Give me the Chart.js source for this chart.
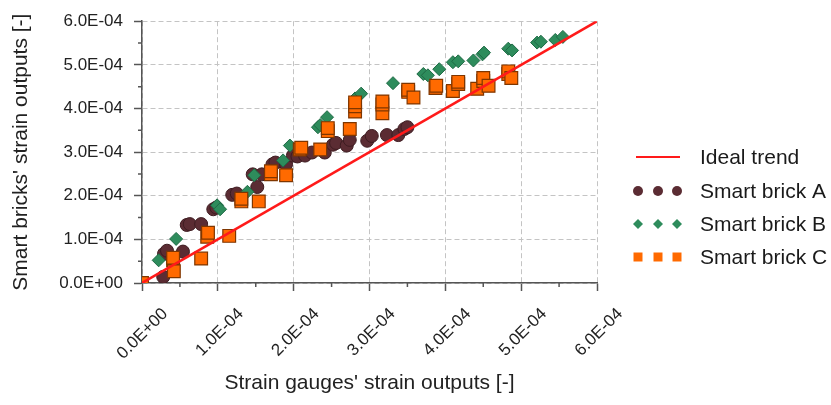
<!DOCTYPE html>
<html>
<head>
<meta charset="utf-8">
<script src="https://cdn.jsdelivr.net/npm/chart.js@4"></script>
<style>
  html, body { margin: 0; padding: 0; background: #fff; }
  canvas { display: block; }
</style>
</head>
<body>
<canvas id="myChart" width="831" height="405"></canvas>
<script>
// all strain values below are in units of 1E-04
const UNIT = 1e-4;

const tickValues = [0, 1, 2, 3, 4, 5, 6];
const xTickLabels = ['0.0E+00', '1.0E-04', '2.0E-04', '3.0E-04', '4.0E-04', '5.0E-04', '6.0E-04'];
const yTickLabels = ['0.0E+00', '1.0E-04', '2.0E-04', '3.0E-04', '4.0E-04', '5.0E-04', '6.0E-04'];

const trendX = [0, 6];
const trendY = [0, 6];

const brickAx = [0, 0.28, 0.29, 0.33, 0.54, 0.59, 0.63, 0.78, 0.94, 0.98, 1.19, 1.25, 1.52, 1.46, 1.58, 1.72, 1.76, 1.90, 1.99, 2.05, 2.15, 2.24, 2.41, 2.52, 2.56, 2.70, 2.74, 2.97, 3.03, 3.23, 3.38, 3.46, 3.50];
const brickAy = [0, 0.14, 0.67, 0.74, 0.72, 1.33, 1.35, 1.35, 1.69, 1.73, 2.02, 2.05, 2.20, 2.49, 2.49, 2.72, 2.76, 2.72, 2.92, 2.90, 2.92, 2.99, 2.99, 3.17, 3.21, 3.15, 3.28, 3.26, 3.37, 3.39, 3.39, 3.53, 3.57];

const brickBx = [0, 0.22, 0.45, 0.99, 1.03, 1.39, 1.48, 1.86, 1.95, 2.32, 2.35, 2.44, 2.81, 2.89, 3.31, 3.71, 3.77, 3.92, 4.10, 4.17, 4.37, 4.49, 4.51, 4.83, 4.88, 5.21, 5.26, 5.45, 5.55];
const brickBy = [0, 0.52, 1.01, 1.78, 1.69, 2.09, 2.47, 2.81, 3.15, 3.57, 3.62, 3.80, 4.23, 4.34, 4.58, 4.79, 4.76, 4.90, 5.06, 5.08, 5.10, 5.24, 5.28, 5.37, 5.33, 5.51, 5.53, 5.57, 5.64];

const brickCx = [0, 0.41, 0.42, 0.41, 0.78, 0.86, 0.87, 1.15, 1.31, 1.31, 1.54, 1.70, 1.70, 1.90, 2.08, 2.10, 2.35, 2.45, 2.45, 2.74, 2.81, 2.81, 2.81, 3.17, 3.17, 3.17, 3.51, 3.51, 3.58, 3.87, 3.88, 4.10, 4.17, 4.17, 4.42, 4.50, 4.50, 4.57, 4.83, 4.83, 4.87];
const brickCy = [0, 0.52, 0.27, 0.58, 0.56, 1.06, 1.15, 1.08, 1.87, 1.93, 1.87, 2.49, 2.56, 2.47, 3.06, 3.10, 3.06, 3.48, 3.55, 3.53, 3.93, 4.05, 4.14, 3.89, 4.09, 4.16, 4.38, 4.43, 4.25, 4.47, 4.52, 4.40, 4.56, 4.61, 4.45, 4.63, 4.70, 4.52, 4.79, 4.85, 4.70];

const FONT = '"Liberation Sans", Arial, sans-serif';
const AXIS_COLOR = '#555';

const toPoints = (xs, ys) => xs.map((x, i) => ({ x: x * UNIT, y: ys[i] * UNIT }));

const series = [
    { label: 'Ideal trend', type: 'line', data: toPoints(trendX, trendY),
      borderColor: '#ff1a1a', borderWidth: 2.5, pointRadius: 0, order: 0 },
    { label: 'Smart brick A', data: toPoints(brickAx, brickAy), pointStyle: 'circle',
      pointRadius: 6.5, backgroundColor: '#5b2c33', borderColor: '#3e1c21', borderWidth: 1, order: 3 },
    { label: 'Smart brick B', data: toPoints(brickBx, brickBy), pointStyle: 'rectRot',
      pointRadius: 6.5, backgroundColor: '#2e8c5c', borderColor: '#1f6a45', borderWidth: 1, order: 2 },
    { label: 'Smart brick C', data: toPoints(brickCx, brickCy), pointStyle: 'rect',
      pointRadius: 9, backgroundColor: '#ff6a00', borderColor: '#7f3600', borderWidth: 1.2, order: 1 }
];

// small ticks halfway between the labelled ones
const minorTicks = {
    id: 'minorTicks',
    afterDraw(chart) {
        const ctx = chart.ctx;
        const xs = chart.scales.x, ys = chart.scales.y;
        ctx.save();
        ctx.strokeStyle = AXIS_COLOR;
        ctx.lineWidth = 1.5;
        ctx.beginPath();
        for (let i = 0; i < tickValues.length - 1; i++) {
            const v = (tickValues[i] + 0.5) * UNIT;
            const px = xs.getPixelForValue(v);
            ctx.moveTo(px, ys.bottom);
            ctx.lineTo(px, ys.bottom + 4);
            const py = ys.getPixelForValue(v);
            ctx.moveTo(xs.left, py);
            ctx.lineTo(xs.left - 4, py);
        }
        ctx.stroke();
        ctx.restore();
    }
};

// legend with a line sample or three markers per entry
const sideLegend = {
    id: 'sideLegend',
    afterDraw(chart) {
        const ctx = chart.ctx;
        const rows = [157, 191, 224, 257];
        ctx.save();
        ctx.font = '21px ' + FONT;
        ctx.textBaseline = 'middle';
        ctx.fillStyle = '#1a1a1a';
        series.forEach((s, i) => {
            const y = rows[i];
            if (s.type === 'line') {
                ctx.strokeStyle = s.borderColor;
                ctx.lineWidth = 2;
                ctx.beginPath();
                ctx.moveTo(636, y);
                ctx.lineTo(680, y);
                ctx.stroke();
            } else {
                [638, 658, 677].forEach(x => {
                    ctx.fillStyle = s.backgroundColor;
                    ctx.beginPath();
                    if (s.pointStyle === 'circle') {
                        ctx.arc(x, y, 5, 0, Math.PI * 2);
                    } else if (s.pointStyle === 'rectRot') {
                        ctx.moveTo(x, y - 5); ctx.lineTo(x + 5, y);
                        ctx.lineTo(x, y + 5); ctx.lineTo(x - 5, y);
                        ctx.closePath();
                    } else {
                        ctx.rect(x - 4.5, y - 4.5, 9, 9);
                    }
                    ctx.fill();
                });
                ctx.fillStyle = '#1a1a1a';
            }
            ctx.fillText(s.label, 700, y + 1);
        });
        ctx.restore();
    }
};

const axisCommon = (labels) => ({
    type: 'linear',
    min: 0,
    max: 6 * UNIT,
    afterBuildTicks: s => { s.ticks = tickValues.map(v => ({ value: v * UNIT })); },
    grid: { color: '#c4c4c4', lineWidth: 1, tickLength: 8, tickColor: AXIS_COLOR, tickWidth: 1.5, tickBorderDash: [] },
    border: { color: AXIS_COLOR, width: 1.5, dash: [5, 3] },
    ticks: { autoSkip: false, color: '#222', font: { family: FONT, size: 17 },
             callback: (v, i) => labels[i] }
});

const xAxis = axisCommon(xTickLabels);
xAxis.afterFit = s => { s.height = 122; };
Object.assign(xAxis.ticks, { minRotation: 45, maxRotation: 45, labelOffset: 23, padding: 13 });
xAxis.title = { display: true, text: "Strain gauges' strain outputs [-]", color: '#222',
                font: { family: FONT, size: 21 }, padding: { top: 0, bottom: 9 } };

const yAxis = axisCommon(yTickLabels);
yAxis.afterFit = s => { s.width = 142; };
Object.assign(yAxis.ticks, { padding: 11 });
yAxis.title = { display: true, text: "Smart bricks' strain outputs [-]", color: '#222',
                font: { family: FONT, size: 21 }, padding: { top: 9, bottom: 0 } };

new Chart(document.getElementById('myChart'), {
    type: 'scatter',
    data: { datasets: series },
    options: {
        responsive: false,
        animation: false,
        layout: { padding: { top: 16, right: 234, bottom: 0, left: 0 } },
        plugins: { legend: { display: false }, tooltip: { enabled: false } },
        scales: { x: xAxis, y: yAxis }
    },
    plugins: [minorTicks, sideLegend]
});
</script>
</body>
</html>
